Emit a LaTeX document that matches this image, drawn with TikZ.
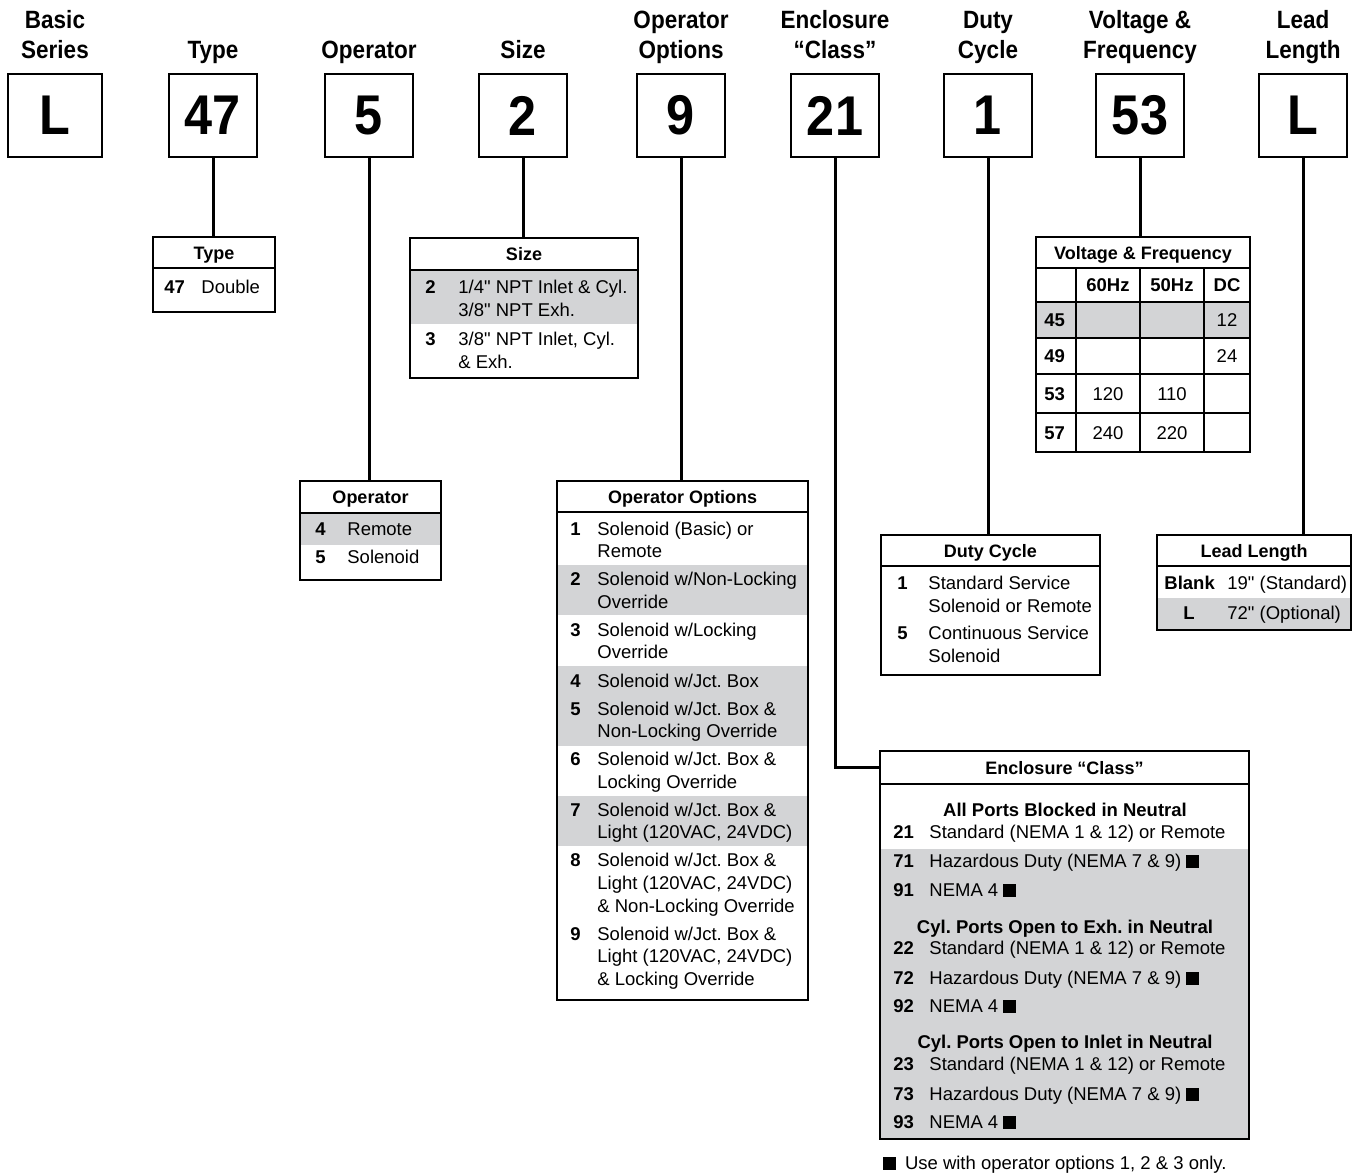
\documentclass[tikz,border=0pt]{standalone}
\usepackage{fontspec}
\setmainfont{Liberation Sans}[Ligatures=TeXOff]
\newfontfamily\condfont[FakeStretch=0.9]{Liberation Sans}
\usetikzlibrary{positioning}
\definecolor{rowgray}{RGB}{211,212,214}
\frenchspacing

\tikzset{
  toplabel/.style={anchor=south, align=center, inner sep=0pt, font=\condfont\bfseries\fontsize{12.5}{15}\selectfont},
  codebox/.style={draw, line width=1pt, minimum width=44pt, minimum height=41.5pt, inner sep=0pt, font=\condfont\bfseries\fontsize{28}{30}\selectfont},
  lead/.style={line width=1.5pt},
  tabhead/.style={draw, line width=1pt, fill=white, inner sep=0pt, minimum height=15.5pt, text height=6.6pt, text depth=0pt, font=\bfseries\fontsize{9}{11}\selectfont},
  tabbody/.style={draw, line width=1pt},
  cell/.style={anchor=west, inner sep=0pt, text height=6.6pt, text depth=0pt, font=\fontsize{9.25}{11.5}\selectfont},
  num/.style={cell, font=\bfseries\fontsize{9.25}{11.5}\selectfont},
  numc/.style={num, anchor=center},
  cellc/.style={cell, anchor=center},
}
\newcommand{\blk}{\rule{6.3pt}{6.3pt}}

\begin{document}
\begin{tikzpicture}[x=0.5pt, y=-0.5pt]
  \useasboundingbox (0,0) rectangle (1354,1174);
  \def\cy{115.5}

  %Code boxes and captions
  \foreach \x/\w/\code/\nm/\lab in {55/47/L/cBasic/{Basic\\Series}, 213/44/47/cType/{Type}, 369/44/5/cOper/{Operator},
      523/44/2/cSize/{Size}, 681/44/9/cOpt/{Operator\\Options}, 835/44/21/cEncl/{Enclosure\\“Class”},
      988/44/1/cDuty/{Duty\\Cycle}, 1140/44/53/cVolt/{Voltage \&\\Frequency}, 1303/44/L/cLead/{Lead\\Length}}
  {
    \node[codebox, minimum width=\w pt] (\nm) at (\x,\cy) {\raisebox{-1pt}{\code}};
    \node[toplabel] (t\nm) at (\x,68) {\lab\strut};
  }

  %Type
  \draw[tabbody] (153,268) rectangle (275,312);
  \node[tabhead, minimum width=61pt] (hType) at (214,252.5) {Type};
  \node[num] (nType) at (164,287) {47};
  \node[cell] (dType) at (201,287) {Double};

  %Size
  \fill[rowgray] (410,270) rectangle (638,324);
  \draw[tabbody] (410,270) rectangle (638,378);
  \node[tabhead, minimum width=114pt, minimum height=16pt] (hSize) at (524,254) {Size};
  \node[num] (nSize2) at (425,287) {2};
  \node[num] (nSize3) at (425,339) {3};
  \foreach \y/\t [count=\i] in {287/{1/4" NPT Inlet \& Cyl.}, 310/{3/8" NPT Exh.}, 339/{3/8" NPT Inlet, Cyl.}, 362/{\& Exh.}}
    \node[cell] (dSize\i) at (458,\y) {\t};

  %Operator
  \fill[rowgray] (300,513) rectangle (441,545);
  \draw[tabbody] (300,513) rectangle (441,580);
  \node[tabhead, minimum width=70.5pt, minimum height=16pt] (hOper) at (370.5,497) {Operator};
  \node[num] (nOper4) at (315,529) {4};
  \node[cell] (dOper4) at (347,529) {Remote};
  \node[num] (nOper5) at (315,557) {5};
  \node[cell] (dOper5) at (347,557) {Solenoid};

  %Operator options
  \foreach \a/\b in {565/615, 666/746, 796/846}
    \fill[rowgray] (557,\a) rectangle (808,\b);
  \draw[tabbody] (557,512) rectangle (808,1000);
  \node[tabhead, minimum width=125.5pt] (hOpt) at (682.5,496.5) {Operator Options};
  \foreach \n/\y in {1/529, 2/579, 3/630, 4/681, 5/709, 6/759, 7/810, 8/860, 9/934}
    \node[num] (nOpt\n) at (570,\y) {\n};
  \foreach \y/\t [count=\i] in {529/{Solenoid (Basic) or}, 551/{Remote},
      579/{Solenoid w/Non-Locking}, 602/{Override},
      630/{Solenoid w/Locking}, 652/{Override},
      681/{Solenoid w/Jct. Box},
      709/{Solenoid w/Jct. Box \&}, 731/{Non-Locking Override},
      759/{Solenoid w/Jct. Box \&}, 782/{Locking Override},
      810/{Solenoid w/Jct. Box \&}, 832/{Light (120VAC, 24VDC)},
      860/{Solenoid w/Jct. Box \&}, 883/{Light (120VAC, 24VDC)}, 906/{\& Non-Locking Override},
      934/{Solenoid w/Jct. Box \&}, 956/{Light (120VAC, 24VDC)}, 979/{\& Locking Override}}
    \node[cell] (dOpt\i) at (597,\y) {\t};

  %Voltage & frequency
  \fill[rowgray] (1036,302) rectangle (1250,338);
  \draw[tabbody] (1036,268) rectangle (1250,452);
  \foreach \x in {1076,1140,1204}
    \draw[line width=1pt] (\x,268) -- (\x,452);
  \foreach \y in {302,338,374,413}
    \draw[line width=1pt] (1036,\y) -- (1250,\y);
  \node[tabhead, minimum width=107pt] (hVolt) at (1143,252.5) {Voltage \& Frequency};
  \node[numc] (f60) at (1108,285) {60Hz};
  \node[numc] (f50) at (1172,285) {50Hz};
  \node[numc] (fDC) at (1227,285) {DC};
  \foreach \n/\y in {45/320, 49/356, 53/393.5, 57/432.5}
    \node[num] (nVolt\n) at (1044,\y) {\n};
  \foreach \x/\y/\v [count=\i] in {1227/320/12, 1227/356/24, 1108/393.5/120, 1172/393.5/110, 1108/432.5/240, 1172/432.5/220}
    \node[cellc] (v\i) at (\x,\y) {\v};

  %Duty cycle
  \draw[tabbody] (881,566) rectangle (1100,675);
  \node[tabhead, minimum width=109.5pt] (hDuty) at (990.5,550.5) {Duty Cycle};
  \node[num] (nDuty1) at (897,583) {1};
  \node[num] (nDuty5) at (897,633) {5};
  \foreach \y/\t [count=\i] in {583/{Standard Service}, 606/{Solenoid or Remote}, 633/{Continuous Service}, 656/{Solenoid}}
    \node[cell] (dDuty\i) at (928,\y) {\t};

  %Lead length
  \fill[rowgray] (1157,598) rectangle (1351,630);
  \draw[tabbody] (1157,566) rectangle (1351,630);
  \node[tabhead, minimum width=97pt] (hLead) at (1254,550.5) {Lead Length};
  \node[num] (nBlank) at (1164,583) {Blank};
  \node[cell] (dBlank) at (1227,583) {19" (Standard)};
  \node[numc] (nL) at (1189,613) {L};
  \node[cell] (dL) at (1227,613) {72" (Optional)};

  %Enclosure class
  \fill[rowgray] (880,849) rectangle (1249,1139);
  \draw[tabbody] (880,784) rectangle (1249,1139);
  \node[tabhead, minimum width=184.5pt, minimum height=16.5pt] (hEncl) at (1064.5,767.5) {Enclosure “Class”};
  \foreach \y/\t [count=\i] in {810/{All Ports Blocked in Neutral}, 927/{Cyl. Ports Open to Exh. in Neutral}, 1042/{Cyl. Ports Open to Inlet in Neutral}}
    \node[numc] (gEncl\i) at (1065,\y) {\t};
  \foreach \y/\n/\t in {832/21/{Standard (NEMA 1 \& 12) or Remote}, 861/71/{Hazardous Duty (NEMA 7 \& 9) \blk}, 890/91/{NEMA 4 \blk},
      948/22/{Standard (NEMA 1 \& 12) or Remote}, 978/72/{Hazardous Duty (NEMA 7 \& 9) \blk}, 1006/92/{NEMA 4 \blk},
      1064/23/{Standard (NEMA 1 \& 12) or Remote}, 1094/73/{Hazardous Duty (NEMA 7 \& 9) \blk}, 1122/93/{NEMA 4 \blk}}
  {
    \node[num] (nEncl\n) at (893,\y) {\n};
    \node[cell] (dEncl\n) at (929,\y) {\t};
  }
  \node[cell] (note) at (883,1163) {\blk\hspace{4.5pt}Use with operator options 1, 2 \& 3 only.};

  %Leads from code boxes to tables
  \foreach \c/\h in {cType/hType, cOper/hOper, cSize/hSize, cOpt/hOpt, cDuty/hDuty, cVolt/hVolt, cLead/hLead}
    \draw[lead] (\c.south) -- (\c.south |- \h.north);
  \draw[lead] (cEncl.south) |- (hEncl.west);

\end{tikzpicture}
\end{document}
